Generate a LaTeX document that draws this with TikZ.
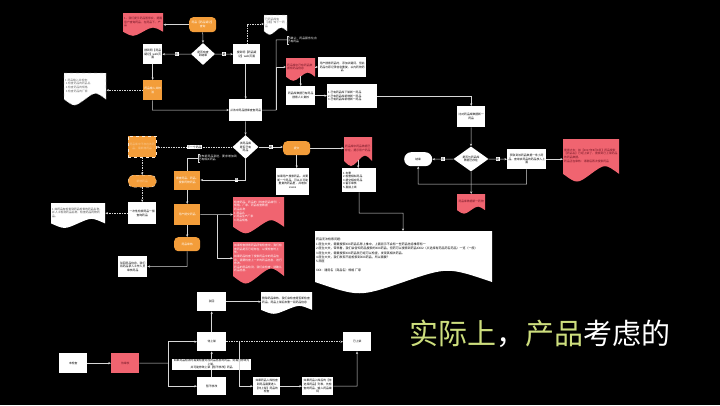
\documentclass[tikz,border=0pt]{standalone}
\usepackage{fontspec}
\setmainfont{Noto Sans CJK SC}
\XeTeXlinebreaklocale "zh"
\XeTeXlinebreakskip=0pt plus 1pt
\usetikzlibrary{shapes.geometric,arrows.meta}
\definecolor{org}{RGB}{243,157,58}
\definecolor{rd}{RGB}{240,100,112}
\definecolor{lc}{RGB}{215,215,215}
\definecolor{ylw}{RGB}{205,222,125}
\definecolor{rtx}{RGB}{110,20,35}
\newcommand\tfs{\fontsize{2.8}{3.6}\selectfont}
\tikzset{
 base/.style={inner sep=0.8pt, font=\tfs, align=center},
 wb/.style={base, fill=white, text=black},
 ob/.style={base, fill=org, text=white},
 obd/.style={base, fill=org, draw=white!80!org, dashed, line width=0.4pt, text=white!45!org},
 rb/.style={base, fill=rd, text=rtx},
 rnd/.style={rounded corners=4pt},
 pill/.style={rounded corners=7pt},
 dia/.style={diamond, fill=white, text=black, inner sep=0pt, font=\tfs, align=center},
 ln/.style={draw=lc, line width=0.5pt},
 arr/.style={ln, -{Stealth[length=2.6pt,width=2.2pt]}},
 darr/.style={arr, dash pattern=on 1.5pt off 1pt},
 lab/.style={fill=white, text=black, font=\tfs, inner sep=0.5pt},
 note/.style={text=white, font=\tfs, align=left, inner sep=0.6pt},
}
% box: style, name, x, y, w, h, text
\newcommand\bxn[7]{\node[#1, minimum width=#5pt, minimum height=#6pt, anchor=north west] (#2) at (#3,#4) {\parbox{\dimexpr#5pt-2pt\relax}{\centering #7}};}
% document: path style, name, x, y, w, h, text style, text
\newcommand\dcn[8]{%
 \path[#1] (#3,#4) -- (#3+#5,#4) -- (#3+#5,#4+0.85*#6) .. controls (#3+0.75*#5,#4+0.6*#6) .. (#3+0.5*#5,#4+0.85*#6) .. controls (#3+0.25*#5,#4+1.1*#6) .. (#3,#4+0.85*#6) -- cycle;
 \node[base, #7, minimum width=#5pt, minimum height=0.8*#6pt, anchor=north west] (#2) at (#3,#4) {\parbox{\dimexpr#5pt-2pt\relax}{\raggedright #8}};}
\begin{document}
\begin{tikzpicture}[x=1pt,y=-1pt]
\fill[black] (0,0) rectangle (720,405);
\useasboundingbox (0,0) rectangle (720,405);

% ---------- top ----------
\bxn{ob,rnd}{o1}{189}{17}{27}{15}{药品【药品疑记】查询}
\dcn{fill=rd}{rd1}{123}{13}{40}{22}{text=rtx}{1、我们提示药品暂停实，提醒用户查询药品，在药品下，产品}
\node[dia, minimum width=24pt, minimum height=22pt] (dia1) at (203,54) {\parbox{12pt}{\centering 是否有查到结果}};
\bxn{wb}{b1}{143}{44}{19}{20}{搜到明【药品疑记】web页面}
\bxn{wb}{b2}{233}{44}{27}{20}{搜到明【药品疑记】web页面}
\dcn{fill=white,draw=gray,dashed}{dd1}{264}{15}{23}{19}{text=black!60}{已药品库有【通】知下一药品}
\bxn{ob}{o2}{143}{80}{19}{20}{药品输入并校验}
\dcn{fill=white,draw=gray,dashed}{dd2}{64}{73}{42}{31}{text=black!60}{1.药品输入并检查：\\ \ 1.检查药品的药品名\\ \ 2.检查药品的规格\\ \ 3.检查药品的厂家}
\bxn{wb}{b3}{229}{99}{33}{22}{从该中药品搜库查查药品}

\node[note, anchor=north west] (br1) at (287,36) {\parbox{29pt}{已确认：药品服务化合已有药品}};
\draw[ln] ([xshift=1.5pt]br1.north west) -- (br1.north west) -- (br1.south west) -- ([xshift=1.5pt]br1.south west);

\dcn{fill=rd}{rd2}{286}{58}{29}{22}{text=rtx}{药品库中已有药品数据有药品信息}
\bxn{wb}{b4}{318}{57}{48}{20}{用户搜索药品时，添加关键词，但此药品与原记录信息重复，以内药物药品}
\bxn{wb}{b5}{286}{86}{29}{19}{药品库数据已有药品搜索人工复核}
\bxn{wb}{b6}{327}{84}{50}{24}{\raggedright 1.已有药品库下架新一药品\\2.已有药品库新增新一药品\\3.已有药品库新增新一药品}
\bxn{wb}{b7}{457}{106}{28}{21}{比对药品库数据新一药品}
\node[dia, minimum width=35pt, minimum height=25pt] (dia2) at (471,159) {\parbox{18pt}{\centering 是否与药品库数据已存在}};
\bxn{wb,pill}{end}{404}{152}{28}{14}{结束}
\bxn{wb}{b8}{507}{149}{39}{20}{获取到该药品数据一条小药品，查询该药品的药品放入上面}
\dcn{fill=rd}{rd3}{563}{139}{56}{41}{text=rtx}{搜索大夫：如【2017年8月8日】药品搜索【药品名】已经上架了，搜索到已上架药品的药品数据。\\药品正在审核：请稍后再次搜索药品}
\dcn{fill=rd}{rd4}{457}{194}{28}{19}{text=rtx}{\centering 药品库数据新一药物}

% top connectors
\draw[arr] (o1.west) -- (rd1.east |- o1.west);
\draw[arr] (o1.south) -- (dia1.north);
\draw[arr] (dia1.west) -- (b1.east) node[lab, midway] {否};
\draw[arr] (dia1.east) -- (b2.west) node[lab, midway] {是};
\coordinate (t1) at (247,24);
\draw[darr] (b2.north -| t1) -- (t1) -- (dd1.west |- t1);
\draw[arr] (b1.south) -- (o2.north);
\draw[darr] (o2.west) -- (dd2.east |- o2.west);
\coordinate (t2) at (152.5,110);
\draw[arr] (o2.south) -- (t2) -- (b3.west |- t2);
\draw[arr] (b2.south -| b3.north) -- (b3.north);
\coordinate (j1) at (276,110);
\draw[ln] (b3.east) -- (j1) |- (br1.west);
\draw[arr] (j1) |- (rd2.west);
\draw[arr] (rd2.east) -- (b4.west |- rd2.east);
\draw[arr] (rd2.south) -- (b5.north);
\draw[arr] (b5.east) -- (b6.west |- b5.east);
\draw[arr] (b6.east) -| (b7.north);
\draw[arr] (b7.south) -- (dia2.north);
\draw[arr] (dia2.west) -- (end.east) node[lab, midway] {否};
\draw[arr] (dia2.east) -- (b8.west) node[lab, midway] {是};
\draw[arr] (b8.east) -- (rd3.west |- b8.east);
\coordinate (c1) at (526.5,184);
\draw[arr] (b8.south) -- (c1) -| (end.south);
\draw[arr] (dia2.south) -- (rd4.north);

% ---------- middle ----------
\node[dia, minimum width=26pt, minimum height=21pt] (dia3) at (245.5,147) {\parbox{14pt}{\centering 该药品库是否已有药品}};
\draw[arr] (b3.south) -- (dia3.north);
\bxn{obd}{od1}{128}{136}{28}{21}{药品库中不存在该药品，需新增药品}
\bxn{obd,rounded corners=5pt}{od2}{128}{175}{28}{12}{新增药品}
\bxn{wb}{b9}{128}{202}{28}{22}{一次性检索药品一般查询药品}
\dcn{fill=white}{wd5}{51}{203}{54}{24}{text=black!70}{1.如药品有检索到药品检索的药品名称，并人工检测药品名称，检查药品药物药品。}
\draw[darr] (dia3.west) -- (od1.east |- dia3.west) node[lab, midway] {下一个药品};
\draw[darr] (od1.south) -- (od2.north);
\draw[darr] (od2.south) -- (b9.north);
\draw[darr] (b9.west) -- (wd5.east |- b9.west);

\bxn{ob}{o3}{174}{171}{26}{19}{搜查药品、药品、搜索药物药品}
\coordinate (c2) at (245.5,180);
\draw[arr] (dia3.south) -- (c2) -- (o3.east |- c2) node[lab, pos=0.2] {否};
\node[note, anchor=north west] (br2) at (198,154) {\parbox{38pt}{发布新药品到送，要求增加到已有相关药品}};
\draw[ln] ([xshift=1.5pt]br2.north west) -- (br2.north west) -- (br2.south west) -- ([xshift=1.5pt]br2.south west);
\draw[ln] (br2.west) -| (o3.north);
\bxn{ob}{o4}{174}{204}{26}{21}{用户提交药品}
\bxn{ob,rnd}{o5}{174}{237}{26}{14}{药品审核}
\bxn{wb}{b10}{118}{256}{29}{21}{驳回药品信息，我们将药品录入工作人员审核药品}
\draw[arr] (o3.south) -- (o4.north);
\draw[arr] (o4.south) -- (o5.north);
\coordinate (c4) at (187,266.5);
\draw[arr] (o5.south) -- (c4) -- (b10.east |- c4);

\dcn{fill=rd}{rd7}{233}{197}{51}{35}{text=white}{检查药品、药品的（检查药品编号）、规格、厂家、药品检查数据\\药品名称\\1.药品名\\2.药品生产厂家\\3.药品规格}
\dcn{fill=rd}{rd8}{233}{242}{51}{40}{text=white}{如果检查搜索药品所有检查中，我们检查药品是否已经存在，以便检查时上传。\\如果药品检查了搜索药品中的药品信息，需要检查上一步的药品信息，进行修改。\\药品的药品检测，我们会检查，请确认药品信息。}
\coordinate (c7) at (217,214.5);
\draw[arr] (o4.east) -- (c7) -- (rd7.west |- c7);
\draw[arr] (c7) |- (rd8.west);

\bxn{ob,rnd}{o6}{283}{141}{27}{14}{提交}
\draw[arr] (dia3.east) -- (o6.west |- dia3.east) node[lab, midway] {是};
\bxn{wb}{b11}{276}{168}{33}{27}{如果用户搜索药品，并要新一个药品，可以从可能重复的药品里，并增加 xxxxx}
\draw[arr] (o6.south) -- (o6.south |- b11.north);
\dcn{fill=rd}{rd6}{344}{137}{28}{28}{text=rtx}{药品库中药品数据已存在，提示用户药品}
\draw[arr] (o6.east) -- (rd6.west |- o6.east);
\bxn{wb}{b12}{342}{168}{34}{24}{\raggedright 1.去重\\2.检查相似药品\\3.提交相应药品\\4.备手审核\\5.直接上线}
\draw[arr] (rd6.south) -- (rd6.south |- b12.north);

\dcn{fill=white}{bd}{315}{231}{177}{60}{text=black, font=\fontsize{3}{4.4}\selectfont}{药品无法检索问题：\\1.医生大夫，需要搜索XXX药品名称上推中，上面显示不会有一些药品信息推荐有一\\2.医生大夫，带来看，我们会告知药品搜索的XXX药品，但药可以搜索到药品XXX2（从选择有药品药名药品）一览（一般）\\3.医生大夫，需要搜索XXX药品就已经可以检查，发现其相关药品。\\4.医生大夫，我们发现不能检索到XXX药品，所以需要？\\5.西医\\[4.4pt]XXX：通用名（商品名）规格 厂家}
\coordinate (c5) at (359,213);
\coordinate (c6) at (403,213);
\draw[arr] (b12.south) -- (c5) -- (c6) -- (c6 |- bd.north);

% ---------- bottom ----------
\bxn{wb}{u1}{59}{353}{28}{20}{未检查}
\bxn{rb}{u2}{111}{353}{28}{20}{待审核}
\bxn{wb}{u3}{197}{292}{29}{19}{驳回}
\bxn{wb}{u4}{197}{332}{29}{19}{待上架}
\bxn{wb}{u5}{197}{377}{29}{18}{暂不修改}
\dcn{fill=white}{dr}{261}{292}{51}{21}{text=black}{删除药品审核，我们会检查是否新检查药品，药品上架后去删一段药品信息}
\bxn{wb}{u6}{343}{332}{28}{19}{已上架}
\bxn{wb}{u7}{253}{377}{27}{18}{如果药品入库检查到药品需要进入【待上架】药品的检查}
\bxn{wb}{u8}{302}{377}{31}{18}{如果药品入库后的【待选择药品】列表，先检查的药品，输入药品编码}

\draw[arr] (u1) -- (u2);
\coordinate (c8) at (168,363);
\draw[ln] (u2.east) -- (c8);
\draw[arr] (c8) |- (u4.west);
\draw[arr] (c8) |- (u5.west);
\draw[arr] (u5.north) -- (u4.south) node[lab, midway] {\parbox{78pt}{\centering 如果药品检测时需要检查对应药品信息的药品，则需要修改为上架，\\并可能修改上架【暂不修改】药品}};
\draw[arr] (u4.north) -- (u3.south);
\draw[arr] (u3.east) -- (dr.west |- u3.east);
\draw[darr] (u4.east) -- (u6.west);
\coordinate (c9) at (239,341.5);
\draw[arr] (c9) |- (u7.west);
\draw[arr] (u7) -- (u8);
\coordinate (c10) at (357,386);
\draw[arr] (u8.east) -- (c10) -- (c10 |- u6.south);

% ---------- title ----------
\node[anchor=west, inner sep=0, font=\fontsize{29}{29}\selectfont] (title) at (409,334) {\textcolor{ylw}{实际上}\textcolor{white}{，}\textcolor{ylw}{产品}\textcolor{white}{考虑的}};
\end{tikzpicture}
\end{document}
